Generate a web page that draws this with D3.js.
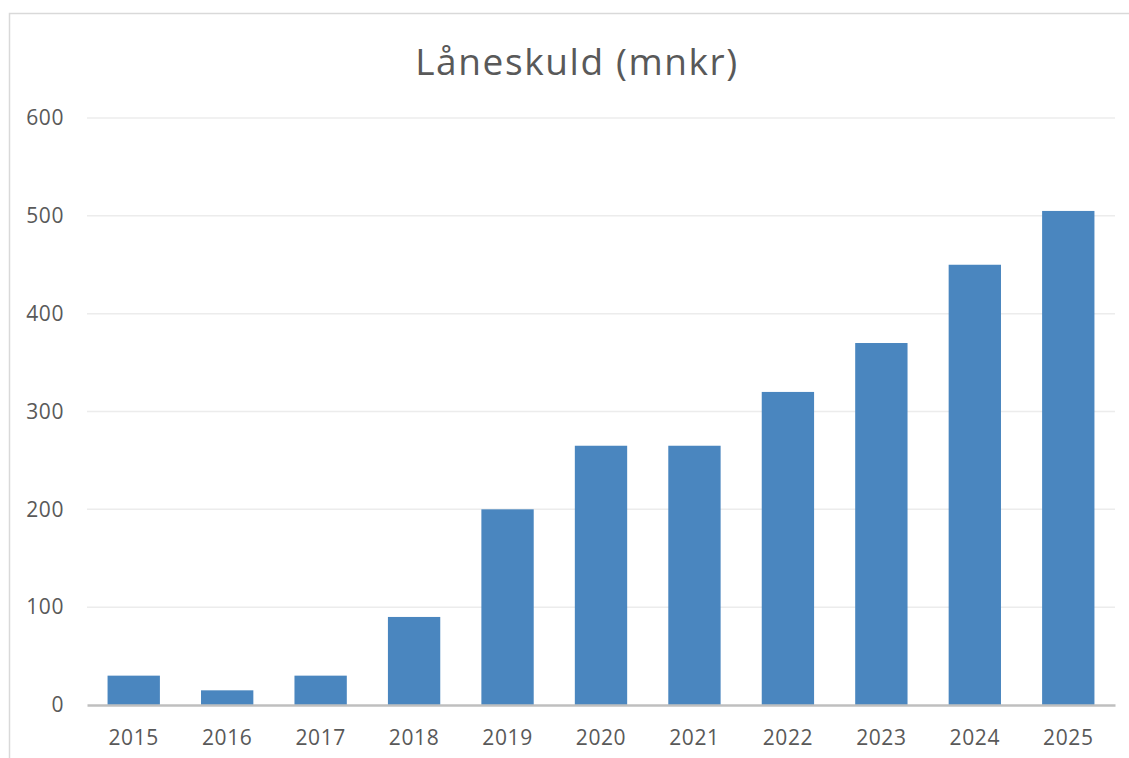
<!DOCTYPE html>
<html>
<head>
<meta charset="utf-8">
<script src="https://cdn.jsdelivr.net/npm/d3@7"></script>
<style>
  body { margin: 0; background: #fff; }
  svg { display: block; font-family: "Open Sans", "Noto Sans", sans-serif; }
</style>
</head>
<body>
<svg id="chart"></svg>
<script>
const years = ["2015", "2016", "2017", "2018", "2019", "2020", "2021", "2022", "2023", "2024", "2025"];
const debt = [30, 15, 30, 90, 200, 265, 265, 320, 370, 450, 505];
const yTicks = [0, 100, 200, 300, 400, 500, 600];
const title = "Låneskuld (mnkr)";

const width = 1129;
const height = 758;
const margin = { top: 118, right: 14, bottom: 53, left: 87 };

const svg = d3.select("#chart")
  .attr("width", width)
  .attr("height", height);

// chart border
svg.append("rect")
  .attr("x", 9.5)
  .attr("y", 13.5)
  .attr("width", width + 10)
  .attr("height", height + 10)
  .attr("fill", "none")
  .attr("stroke", "#d9d9d9")
  .attr("stroke-width", 1.5);

const xScale = d3.scaleBand()
  .domain(years)
  .range([margin.left, width - margin.right])
  .paddingInner(0.44)
  .paddingOuter(0.22);

const yScale = d3.scaleLinear()
  .domain([0, 600])
  .range([height - margin.bottom, margin.top]);

// gridlines
svg.append("g")
  .selectAll("line")
  .data(yTicks.filter(d => d > 0))
  .enter()
  .append("line")
  .attr("x1", margin.left)
  .attr("x2", width - margin.right)
  .attr("y1", d => yScale(d))
  .attr("y2", d => yScale(d))
  .attr("stroke", "#ececec")
  .attr("stroke-width", 1.5);

// y axis labels
const yAxis = svg.append("g")
  .attr("transform", `translate(${margin.left - 23},0)`)
  .call(d3.axisLeft(yScale).tickValues(yTicks).tickSize(0).tickPadding(0));
yAxis.select(".domain").remove();
yAxis.selectAll("text")
  .attr("font-size", 21)
  .attr("letter-spacing", 0.6)
  .attr("fill", "#595959")
  .style("font-family", "'Open Sans', sans-serif");

// bars
svg.selectAll("rect.bar")
  .data(years.map((y, i) => ({ year: y, value: debt[i] })))
  .enter()
  .append("rect")
  .attr("class", "bar")
  .attr("x", d => xScale(d.year))
  .attr("y", d => yScale(d.value))
  .attr("width", xScale.bandwidth())
  .attr("height", d => yScale(0) - yScale(d.value))
  .attr("fill", "#4a86bf");

// x axis
const xAxis = svg.append("g")
  .attr("transform", `translate(0, ${yScale(0)})`)
  .call(d3.axisBottom(xScale).tickSize(0).tickPadding(25));
xAxis.select(".domain")
  .attr("stroke", "#bfbfbf")
  .attr("stroke-width", 2.5);
xAxis.selectAll("text")
  .attr("font-size", 21)
  .attr("letter-spacing", 0.6)
  .attr("fill", "#595959")
  .style("font-family", "'Open Sans', sans-serif");

// title
svg.append("text")
  .attr("x", 577)
  .attr("y", 75)
  .attr("text-anchor", "middle")
  .attr("font-size", 37)
  .attr("letter-spacing", 1.6)
  .attr("fill", "#595959")
  .text(title);
</script>
</body>
</html>
